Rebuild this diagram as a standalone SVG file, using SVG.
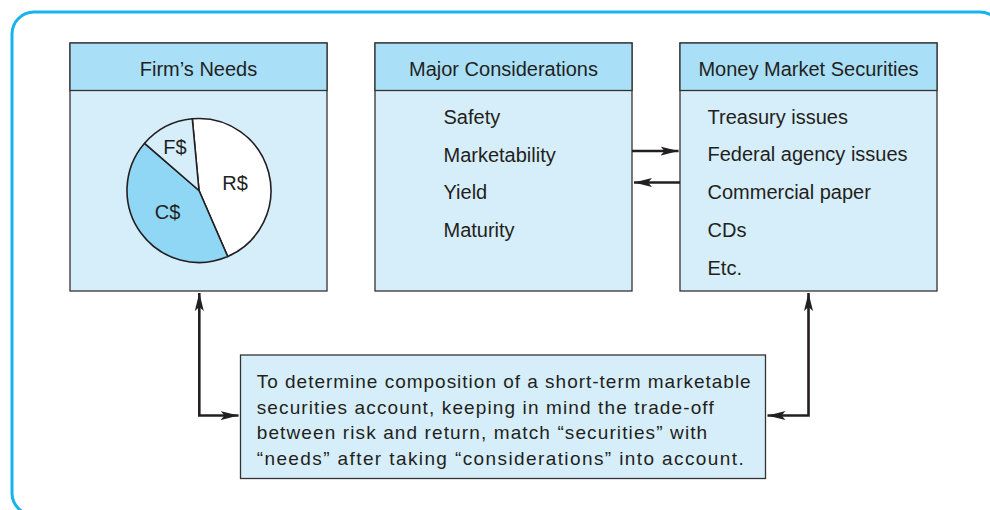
<svg xmlns="http://www.w3.org/2000/svg" width="990" height="510" viewBox="0 0 990 510">
<defs>
<style>
.t{font-family:"Liberation Sans",Arial,sans-serif;font-size:20px;fill:#231f20}
.s{font-family:"Liberation Sans",Arial,sans-serif;font-size:19px;fill:#231f20}
.hd{fill:#a9e0f8;stroke:#333;stroke-width:1.3}
.bd{fill:#d6eefa;stroke:#333;stroke-width:1.3}
.ln{fill:none;stroke:#231f20;stroke-width:2.6}
.pie{stroke:#231f20;stroke-width:1.6}
</style>
<marker id="ah" viewBox="0 0 18 10" refX="18" refY="5" markerWidth="18" markerHeight="10" markerUnits="userSpaceOnUse" orient="auto-start-reverse">
<path d="M0,0.5 L18,5 L0,9.5 L4,5 Z" fill="#231f20"/>
</marker>
</defs>
<rect x="0" y="0" width="990" height="510" fill="#fff"/>
<rect id="frame" x="12" y="12" width="990" height="503" rx="22" fill="none" stroke="#16b3ec" stroke-width="3"/>

<g id="firms-needs">
<rect class="bd" x="70" y="43" width="257" height="248"/>
<rect class="hd" x="70" y="43" width="257" height="47.5"/>
<text class="t" x="198.5" y="75.5" text-anchor="middle">Firm’s Needs</text>
<g id="pie">
<path class="pie" fill="#ffffff" d="M199,190.5 L192.3,118.8 A72,72 0 0 1 227.7,256.5 Z"/>
<path class="pie" fill="#8fd7f5" d="M199,190.5 L227.7,256.5 A72,72 0 0 1 144.6,143.3 Z"/>
<path class="pie" fill="#d6eefa" d="M199,190.5 L144.6,143.3 A72,72 0 0 1 192.3,118.8 Z"/>
<text class="t" x="175" y="153.5" text-anchor="middle">F$</text>
<text class="t" x="235" y="190" text-anchor="middle">R$</text>
<text class="t" x="167.5" y="218.5" text-anchor="middle">C$</text>
</g>
</g>

<g id="major-considerations">
<rect class="bd" x="375" y="43" width="257" height="248"/>
<rect class="hd" x="375" y="43" width="257" height="47.5"/>
<text class="t" x="503.5" y="75.5" text-anchor="middle">Major Considerations</text>
<text class="t" x="443.5" y="124">Safety</text>
<text class="t" x="443.5" y="161.5">Marketability</text>
<text class="t" x="443.5" y="199">Yield</text>
<text class="t" x="443.5" y="236.5">Maturity</text>
</g>

<g id="money-market-securities">
<rect class="bd" x="680" y="43" width="257" height="248"/>
<rect class="hd" x="680" y="43" width="257" height="47.5"/>
<text class="t" x="808.5" y="75.5" text-anchor="middle">Money Market Securities</text>
<text class="t" x="707.5" y="123.5">Treasury issues</text>
<text class="t" x="707.5" y="161">Federal agency issues</text>
<text class="t" x="707.5" y="199">Commercial paper</text>
<text class="t" x="707.5" y="236.5">CDs</text>
<text class="t" x="707.5" y="274.5">Etc.</text>
</g>

<g id="objective">
<rect class="bd" x="240.5" y="355" width="525" height="123.5"/>
<text class="s" x="256.7" y="388" textLength="494" lengthAdjust="spacing">To determine composition of a short-term marketable</text>
<text class="s" x="256.7" y="413.7" textLength="457" lengthAdjust="spacing">securities account, keeping in mind the trade-off</text>
<text class="s" x="256.7" y="439.4" textLength="450.5" lengthAdjust="spacing">between risk and return, match “securities” with</text>
<text class="s" x="256.7" y="465" textLength="487" lengthAdjust="spacing">“needs” after taking “considerations” into account.</text>
</g>

<g id="connectors">
<line class="ln" x1="632" y1="151" x2="678.5" y2="151" marker-end="url(#ah)"/>
<line class="ln" x1="680" y1="182.5" x2="634" y2="182.5" marker-end="url(#ah)"/>
<polyline class="ln" points="199.3,293 199.3,415.5 238.5,415.5" marker-start="url(#ah)" marker-end="url(#ah)"/>
<polyline class="ln" points="808.5,293 808.5,415.5 767.5,415.5" marker-start="url(#ah)" marker-end="url(#ah)"/>
</g>
</svg>
